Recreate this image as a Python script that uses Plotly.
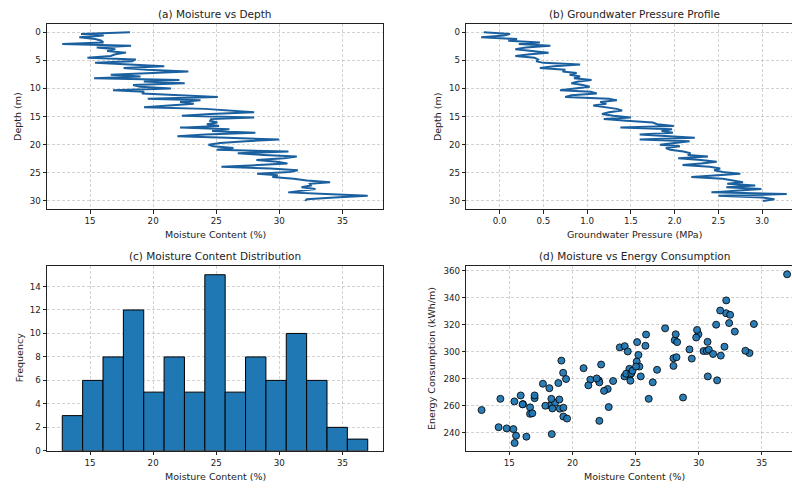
import numpy as np
import plotly.graph_objects as go

# ---- borehole log data -------------------------------------------------
depth_m = np.linspace(0, 30, 100)

moisture_pct = [
    18.17, 14.29, 16.08, 14.15, 15.42, 15.90, 16.05, 12.80, 18.25, 15.53,
    17.00, 16.35, 17.85, 17.00, 16.64, 14.79, 18.62, 18.33, 15.40, 18.36,
    20.88, 17.66, 19.49, 22.79, 18.88, 16.64, 19.00, 15.32, 22.08, 19.26,
    22.50, 18.41, 18.96, 21.42, 16.82, 19.28, 19.12, 22.87, 25.12, 19.57,
    23.75, 22.13, 23.22, 21.26, 19.28, 24.12, 25.78, 28.00, 24.56, 22.27,
    28.00, 24.59, 24.51, 25.09, 24.25, 25.22, 22.13, 26.04, 24.67, 28.10,
    24.14, 21.92, 25.83, 29.98, 27.34, 25.30, 24.38, 24.75, 26.36, 25.04,
    30.72, 26.70, 28.76, 31.38, 30.38, 28.18, 29.80, 30.64, 28.29, 25.41,
    29.27, 31.46, 30.80, 28.24, 29.87, 29.45, 31.14, 32.17, 34.02, 32.41,
    32.49, 31.75, 32.86, 31.70, 30.70, 33.70, 37.00, 34.37, 32.18, 32.04,
]

pressure_mpa = [
    -0.18, 0.12, 0.05, -0.21, 0.20, 0.10, 0.46, 0.22, 0.58, 0.30,
    0.18, 0.42, 0.56, 0.35, 0.18, 0.40, 0.44, 0.42, 0.50, 0.92,
    0.62, 0.46, 0.75, 0.72, 0.88, 0.80, 0.92, 0.85, 1.05, 0.90,
    0.82, 0.95, 1.03, 0.86, 0.69, 1.04, 1.11, 0.82, 0.75, 1.25,
    1.34, 1.15, 1.22, 1.07, 1.20, 1.34, 1.40, 1.25, 1.17, 1.30,
    1.50, 1.19, 1.45, 1.75, 1.80, 1.99, 1.38, 1.97, 1.85, 1.98,
    1.60, 1.90, 2.23, 1.60, 2.17, 2.00, 1.83, 2.06, 1.90, 1.95,
    2.10, 2.18, 2.15, 2.38, 2.04, 2.30, 2.48, 2.30, 2.09, 2.40,
    2.52, 2.45, 2.55, 2.75, 2.45, 2.19, 2.55, 2.65, 2.78, 2.60,
    2.92, 2.59, 2.99, 2.70, 2.42, 3.28, 2.50, 3.00, 3.14, 3.01,
]

energy_kwh_m = [
    273.0, 265.1, 261.2, 244.1, 232.4, 267.6, 261.0, 256.8, 260.2, 237.8,
    265.6, 237.1, 260.0, 267.6, 254.0, 243.2, 262.2, 265.1, 263.2, 239.0,
    287.8, 276.3, 279.8, 272.4, 276.8, 258.8, 257.8, 242.7, 278.8, 284.4,
    271.0, 258.0, 264.6, 279.3, 254.4, 252.0, 293.4, 259.0, 307.1, 250.5,
    303.2, 248.8, 278.3, 275.1, 258.5, 281.7, 304.4, 289.5, 282.9, 290.5,
    295.1, 278.5, 287.3, 292.7, 283.7, 297.6, 277.3, 265.1, 284.1, 308.5,
    304.1, 280.2, 312.7, 312.9, 317.3, 289.0, 300.2, 285.9, 277.3, 289.0,
    281.7, 286.6, 266.1, 320.0, 300.5, 312.9, 310.5, 300.5, 307.1, 281.7,
    301.7, 278.8, 301.5, 295.9, 316.1, 294.9, 298.3, 328.5, 299.0, 321.2,
    327.3, 297.1, 314.9, 330.5, 307.3, 300.7, 357.3, 320.5, 338.0, 303.7,
]

n_bins = 15
depth_ticks = [0, 5, 10, 15, 20, 25, 30]
moisture_ticks = [15, 20, 25, 30, 35]
pressure_ticks = [0.0, 0.5, 1.0, 1.5, 2.0, 2.5, 3.0]
freq_ticks = [0, 2, 4, 6, 8, 10, 12, 14]
energy_ticks = [240, 260, 280, 300, 320, 340, 360]

# ---- styling ------------------------------------------------------------
FONT = "DejaVu Sans"
LINE_BLUE = "#1a5f9e"
BAR_BLUE = "#1f77b4"
INK = "#222222"
W, H = 792, 488

counts, edges = np.histogram(np.asarray(moisture_pct), bins=n_bins)
centers = (edges[:-1] + edges[1:]) / 2
bin_w = edges[1] - edges[0]

fig = go.Figure()

fig.add_trace(go.Scatter(x=moisture_pct, y=depth_m, mode="lines",
                         line=dict(color=LINE_BLUE, width=2),
                         xaxis="x", yaxis="y", showlegend=False))
fig.add_trace(go.Scatter(x=pressure_mpa, y=depth_m, mode="lines",
                         line=dict(color=LINE_BLUE, width=2),
                         xaxis="x2", yaxis="y2", showlegend=False))
fig.add_trace(go.Bar(x=centers, y=counts, width=bin_w,
                     marker=dict(color=BAR_BLUE, line=dict(color="black", width=1)),
                     xaxis="x3", yaxis="y3", showlegend=False))
fig.add_trace(go.Scatter(x=moisture_pct, y=energy_kwh_m, mode="markers",
                         marker=dict(color=BAR_BLUE, size=7, opacity=0.95,
                                     line=dict(color="black", width=0.9)),
                         xaxis="x4", yaxis="y4", showlegend=False))


def px_x(p):
    return p / W


def px_y(p):
    return 1 - p / H


def axis(domain, rng, ticks, anchor, mirror=True, fmt=None, reverse=False):
    d = dict(domain=domain, range=rng, tickvals=ticks, anchor=anchor,
             showline=True, linecolor=INK, linewidth=1, mirror=mirror,
             ticks="outside", ticklen=3.5, tickwidth=1, tickcolor=INK,
             showgrid=True, gridcolor="rgba(180,180,180,0.6)", gridwidth=0.8,
             griddash="3px,2px", zeroline=False,
             tickfont=dict(family=FONT, size=8.7, color=INK))
    if fmt:
        d["tickformat"] = fmt
    return d


left_dom = [px_x(47), px_x(383)]
right_dom = [px_x(466.3), 1.0]
top_dom = [px_y(211.5), px_y(24)]
bot_dom = [px_y(455.5), px_y(268.7)]

fig.update_layout(
    width=W, height=H, margin=dict(l=0, r=0, t=0, b=0),
    paper_bgcolor="white", plot_bgcolor="white",
    font=dict(family=FONT, color=INK),
    xaxis=axis(left_dom, [11.59, 38.21], moisture_ticks, "y"),
    yaxis=axis(top_dom, [31.5, -1.5], depth_ticks, "x"),
    xaxis2=axis(right_dom, [-0.38, 3.34], pressure_ticks, "y2", fmt=".1f"),
    yaxis2=axis(top_dom, [31.5, -1.5], depth_ticks, "x2", mirror=False),
    xaxis3=axis(left_dom, [11.59, 38.21], moisture_ticks, "y3"),
    yaxis3=axis(bot_dom, [0, 15.75], freq_ticks, "x3"),
    xaxis4=axis(right_dom, [11.59, 37.39], moisture_ticks, "y4"),
    yaxis4=axis(bot_dom, [226.6, 363.5], energy_ticks, "x4", mirror=False),
)

annotations = []


def text(x, y, s, size, angle=0):
    annotations.append(dict(x=px_x(x), y=px_y(y), xref="paper", yref="paper",
                            text=s, showarrow=False, textangle=angle,
                            xanchor="center", yanchor="middle",
                            font=dict(family=FONT, size=size, color=INK)))


# subplot titles
text(215, 14, "(a) Moisture vs Depth", 10.5)
text(634.5, 14, "(b) Groundwater Pressure Profile", 10.5)
text(215, 258.5, "(c) Moisture Content Distribution", 10.5)
text(634.5, 258.5, "(d) Moisture vs Energy Consumption", 10.5)

# axis labels
text(215, 236.5, "Moisture Content (%)", 9.5)
text(634.5, 236.5, "Groundwater Pressure (MPa)", 9.5)
text(215, 481, "Moisture Content (%)", 9.5)
text(634.5, 481, "Moisture Content (%)", 9.5)
text(17.3, 117.8, "Depth (m)", 9.5, -90)
text(437.5, 117.8, "Depth (m)", 9.5, -90)
text(19, 362, "Frequency", 9.5, -90)
text(431.7, 362, "Energy Consumption (kWh/m)", 9.5, -90)

fig.update_layout(annotations=annotations)

fig.write_html("out.html")
